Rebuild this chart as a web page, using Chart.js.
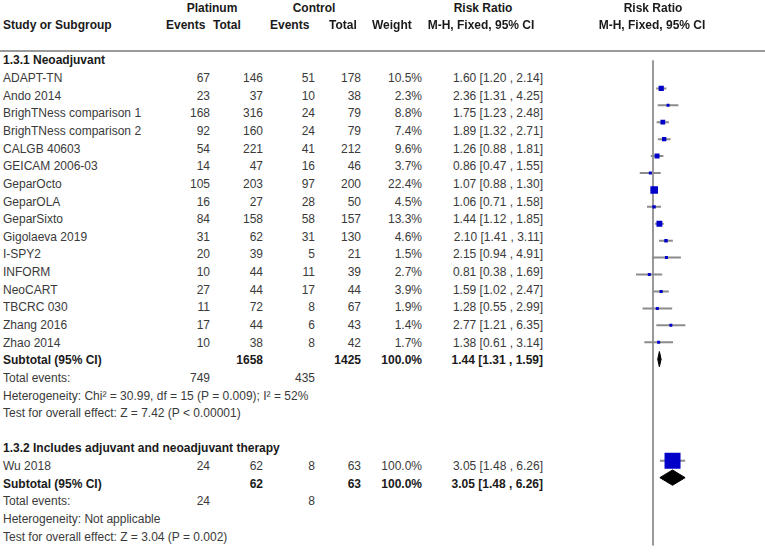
<!DOCTYPE html>
<html>
<head>
<meta charset="utf-8">
<script src="https://cdn.jsdelivr.net/npm/chart.js@4.4.0/dist/chart.umd.min.js"></script>
<style>
  body { margin: 0; background: #fff; }
  #page {
    position: relative; width: 765px; height: 557px; overflow: hidden;
    font-family: "Liberation Sans", Arial, sans-serif; font-size: 12px; color: #3a3a3a;
  }
  .t { position: absolute; white-space: nowrap; line-height: 14px; }
  .b { font-weight: bold; color: #1a1a1a; }
  #rule { position: absolute; left: 0; top: 50px; width: 765px; height: 2px; background: #9a9a9a; }
  #plot { position: absolute; left: 561px; top: 0; }
</style>
</head>
<body>
<div id="page">
  <div id="rule"></div>
  <canvas id="plot" width="184" height="557"></canvas>
</div>
<script>
// DATA
const studyNames = ["ADAPT-TN", "Ando 2014", "BrighTNess comparison 1", "BrighTNess comparison 2",
  "CALGB 40603", "GEICAM 2006-03", "GeparOcto", "GeparOLA", "GeparSixto", "Gigolaeva 2019",
  "I-SPY2", "INFORM", "NeoCART", "TBCRC 030", "Zhang 2016", "Zhao 2014", "Wu 2018"];
const studyGroup = [0, 0, 0, 0, 0, 0, 0, 0, 0, 0, 0, 0, 0, 0, 0, 0, 1];
const platEvents = [67, 23, 168, 92, 54, 14, 105, 16, 84, 31, 20, 10, 27, 11, 17, 10, 24];
const platTotal = [146, 37, 316, 160, 221, 47, 203, 27, 158, 62, 39, 44, 44, 72, 44, 38, 62];
const ctrlEvents = [51, 10, 24, 24, 41, 16, 97, 28, 58, 31, 5, 11, 17, 8, 6, 8, 8];
const ctrlTotal = [178, 38, 79, 79, 212, 46, 200, 50, 157, 130, 21, 39, 44, 67, 43, 42, 63];
const weights = [10.5, 2.3, 8.8, 7.4, 9.6, 3.7, 22.4, 4.5, 13.3, 4.6, 1.5, 2.7, 3.9, 1.9, 1.4, 1.7, 100.0];
const riskRatio = [1.60, 2.36, 1.75, 1.89, 1.26, 0.86, 1.07, 1.06, 1.44, 2.10, 2.15, 0.81, 1.59, 1.28, 2.77, 1.38, 3.05];
const ciLow = [1.20, 1.31, 1.23, 1.32, 0.88, 0.47, 0.88, 0.71, 1.12, 1.41, 0.94, 0.38, 1.02, 0.55, 1.21, 0.61, 1.48];
const ciHigh = [2.14, 4.25, 2.48, 2.71, 1.81, 1.55, 1.30, 1.58, 1.85, 3.11, 4.91, 1.69, 2.47, 2.99, 6.35, 3.14, 6.26];

const groupNames = ["1.3.1 Neoadjuvant", "1.3.2 Includes adjuvant and neoadjuvant therapy"];
const subPlatEvents = [749, 24];
const subPlatTotal = [1658, 62];
const subCtrlEvents = [435, 8];
const subCtrlTotal = [1425, 63];
const subWeight = [100.0, 100.0];
const subRR = [1.44, 3.05];
const subLow = [1.31, 1.48];
const subHigh = [1.59, 6.26];
const heterogeneity = ["Heterogeneity: Chi\u00b2 = 30.99, df = 15 (P = 0.009); I\u00b2 = 52%",
  "Heterogeneity: Not applicable"];
const overallEffect = ["Test for overall effect: Z = 7.42 (P < 0.00001)",
  "Test for overall effect: Z = 3.04 (P = 0.002)"];

// layout
const ROW0 = 60.4, ROWH = 17.64, MARK_OFF = 2.3;
const COL = { name: 3, pe: 210, pt: 263, ce: 315, ct: 361, w: 422, ci: 543 };
const page = document.getElementById("page");

function put(text, x, y, align, bold) {
  const d = document.createElement("div");
  d.className = "t" + (bold ? " b" : "");
  d.textContent = text;
  d.style.left = x + "px";
  d.style.top = y + "px";
  let tx = "0";
  if (align === "right") tx = "-100%";
  if (align === "center") tx = "-50%";
  d.style.transform = "translate(" + tx + ", -50%)";
  page.appendChild(d);
}
const rowY = r => ROW0 + r * ROWH;
const ciText = (m, l, h) => m.toFixed(2) + " [" + l.toFixed(2) + " , " + h.toFixed(2) + "]";

// header
put("Platinum", 212, 8, "center", true);
put("Control", 314, 8, "center", true);
put("Risk Ratio", 483, 8, "center", true);
put("Risk Ratio", 653, 8, "center", true);
put("Study or Subgroup", 3, 25, "left", true);
put("Events", 166, 25, "left", true);
put("Total", 213, 25, "left", true);
put("Events", 270, 25, "left", true);
put("Total", 329, 25, "left", true);
put("Weight", 372, 25, "left", true);
put("M-H, Fixed, 95% CI", 481, 25, "center", true);
put("M-H, Fixed, 95% CI", 652, 25, "center", true);

const studyRows = [], subRows = [];
let row = 0;
groupNames.forEach((g, gi) => {
  put(g, COL.name, rowY(row), "left", true);
  row++;
  studyNames.forEach((s, i) => {
    if (studyGroup[i] !== gi) return;
    const y = rowY(row);
    studyRows[i] = row;
    put(s, COL.name, y, "left");
    put(platEvents[i], COL.pe, y, "right");
    put(platTotal[i], COL.pt, y, "right");
    put(ctrlEvents[i], COL.ce, y, "right");
    put(ctrlTotal[i], COL.ct, y, "right");
    put(weights[i].toFixed(1) + "%", COL.w, y, "right");
    put(ciText(riskRatio[i], ciLow[i], ciHigh[i]), COL.ci, y, "right");
    row++;
  });
  subRows[gi] = row;
  let y = rowY(row);
  put("Subtotal (95% CI)", COL.name, y, "left", true);
  put(subPlatTotal[gi], COL.pt, y, "right", true);
  put(subCtrlTotal[gi], COL.ct, y, "right", true);
  put(subWeight[gi].toFixed(1) + "%", COL.w, y, "right", true);
  put(ciText(subRR[gi], subLow[gi], subHigh[gi]), COL.ci, y, "right", true);
  row++;
  y = rowY(row);
  put("Total events:", COL.name, y, "left");
  put(subPlatEvents[gi], COL.pe, y, "right");
  put(subCtrlEvents[gi], COL.ce, y, "right");
  row++;
  put(heterogeneity[gi], COL.name, rowY(row), "left");
  row++;
  put(overallEffect[gi], COL.name, rowY(row), "left");
  row += 2;
});

// CHART JS
const H = 557;
const yMin = -(ROW0 + MARK_OFF) / ROWH;
const yMax = (H - ROW0 - MARK_OFF) / ROWH;
const yLineTop = (51 - ROW0 - MARK_OFF) / ROWH;
const diaH = 8 / ROWH;

const datasets = [];
datasets.push({
  data: [{ x: 1, y: yLineTop }, { x: 1, y: yMax }],
  showLine: true, borderColor: "#999", borderWidth: 2, pointRadius: 0, order: 5
});
studyNames.forEach((s, i) => {
  datasets.push({
    data: [{ x: ciLow[i], y: studyRows[i] }, { x: ciHigh[i], y: studyRows[i] }],
    showLine: true, borderColor: "#8c8c8c", borderWidth: 2, pointRadius: 0, order: 4
  });
});
datasets.push({
  data: studyNames.map((s, i) => ({ x: riskRatio[i], y: studyRows[i] })),
  pointStyle: "rect",
  pointRadius: weights.map(w => Math.max(3, 1.6 * Math.sqrt(w)) / Math.SQRT2),
  backgroundColor: "#0000c8", borderColor: "#0000c8", borderWidth: 0, order: 1
});
groupNames.forEach((g, gi) => {
  const r = subRows[gi];
  datasets.push({
    data: [
      { x: subLow[gi], y: r }, { x: subRR[gi], y: r - diaH },
      { x: subHigh[gi], y: r }, { x: subRR[gi], y: r + diaH }, { x: subLow[gi], y: r }
    ],
    showLine: true, fill: "shape", backgroundColor: "#000", borderColor: "#000",
    borderWidth: 1, pointRadius: 0, order: 2
  });
});

const plot = new Chart(document.getElementById("plot").getContext("2d"), {
  type: "scatter",
  data: { datasets: datasets },
  options: {
    responsive: false,
    animation: false,
    devicePixelRatio: 1,
    layout: { padding: 0 },
    plugins: { legend: { display: false }, tooltip: { enabled: false } },
    scales: {
      x: { type: "logarithmic", min: 0.01, max: 100, display: false },
      y: { type: "linear", min: yMin, max: yMax, reverse: true, display: false }
    }
  }
});
</script>
</body>
</html>
